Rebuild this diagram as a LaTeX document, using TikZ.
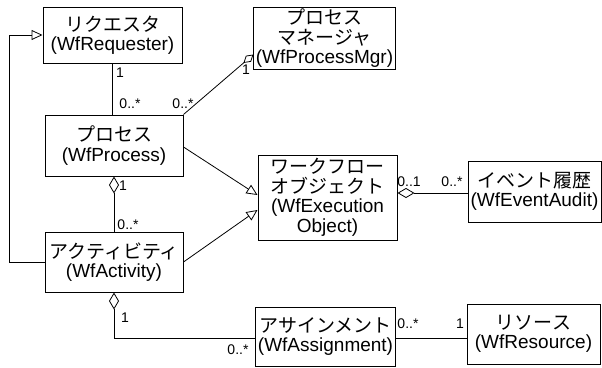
\documentclass[tikz,border=0pt]{standalone}
\usepackage{fontspec}
\setmainfont{Liberation Sans}
\newfontfamily\jpfont{Noto Sans CJK JP}
\usetikzlibrary{arrows.meta,positioning}
\tikzset{
  cls/.style={draw=black,line width=1pt,align=center,inner sep=2pt,font=\fontsize{19}{19.5}\selectfont},
  mult/.style={inner sep=1pt,font=\fontsize{14}{16}\selectfont},
  assoc/.style={line width=0.8pt,draw=black},
  inherit/.style={-{Triangle[open,length=11pt,width=10pt]},line width=0.8pt},
  aggr/.style={{Diamond[open,length=17pt,width=10pt]}-,line width=0.8pt},
  smallaggr/.style={{Diamond[open,length=13pt,width=8pt]}-,line width=0.8pt}
}

\begin{document}
\begin{tikzpicture}[x=1pt,y=-1pt]
\useasboundingbox (0,0) rectangle (602,367);
\node[cls,minimum width=139pt,minimum height=56pt](req) at (112.5,35){{\jpfont リクエスタ}\\(WfRequester)};
\node[cls,minimum width=137pt,minimum height=55pt](mgr) at (324.5,38.5){{\jpfont プロセス}\\{\jpfont マネージャ}\\(WfProcessMgr)};
\node[cls,minimum width=138pt,minimum height=61pt](proc) at (114,145.5){{\jpfont プロセス}\\(WfProcess)};
\node[cls,minimum width=138pt,minimum height=60pt](act) at (114,262){{\jpfont アクティビティ}\\(WfActivity)};
\node[cls,minimum width=139pt,minimum height=85pt](exe) at (327.5,197.5){{\jpfont ワークフロー}\\{\jpfont オブジェクト}\\(WfExecution\\Object)};
\node[cls,minimum width=133pt,minimum height=61pt](audit) at (534.5,191.5){{\jpfont イベント履歴}\\(WfEventAudit)};
\node[cls,minimum width=137pt,minimum height=59pt](asg) at (325.5,336.5){{\jpfont アサインメント}\\(WfAssignment)};
\node[cls,minimum width=133pt,minimum height=60pt](res) at (533.5,334){{\jpfont リソース}\\(WfResource)};

% connectors
\draw[assoc](req.south) -- (req.south |- proc.north);
\draw[smallaggr]([yshift=-16pt]mgr.west) -- (proc.north east);
\draw[inherit]([yshift=-1.5pt]proc.east) -- ([yshift=2.5pt]exe.west);
\draw[inherit](act.east) -- ([yshift=-12.5pt]exe.west);
\draw[aggr](proc.south) -- (proc.south |- act.north);
\draw[inherit](act.west) -- ++(-35,0) |- (req.west);
\draw[aggr](act.south) |- ([yshift=-1.5pt]asg.west);
\draw[assoc]([yshift=-1.5pt]asg.east) -- ([yshift=-1.5pt]asg.east -| res.west);
\draw[aggr]([yshift=4.5pt]exe.east) -- ([yshift=4.5pt]exe.east -| audit.west);

% multiplicities
\node[mult](m1) at (120,73){1};
\node[mult](m2) at (130,104){0..*};
\node[mult](m3) at (183,104){0..*};
\node[mult](m4) at (246,70){1};
\node[mult](m5) at (123,186){1};
\node[mult](m6) at (128,225){0..*};
\node[mult](m7) at (409,182){0..1};
\node[mult](m8) at (452,182){0..*};
\node[mult](m9) at (125,318){1};
\node[mult](m10) at (238,350){0..*};
\node[mult](m11) at (408,324){0..*};
\node[mult](m12) at (460,324){1};
\end{tikzpicture}
\end{document}
